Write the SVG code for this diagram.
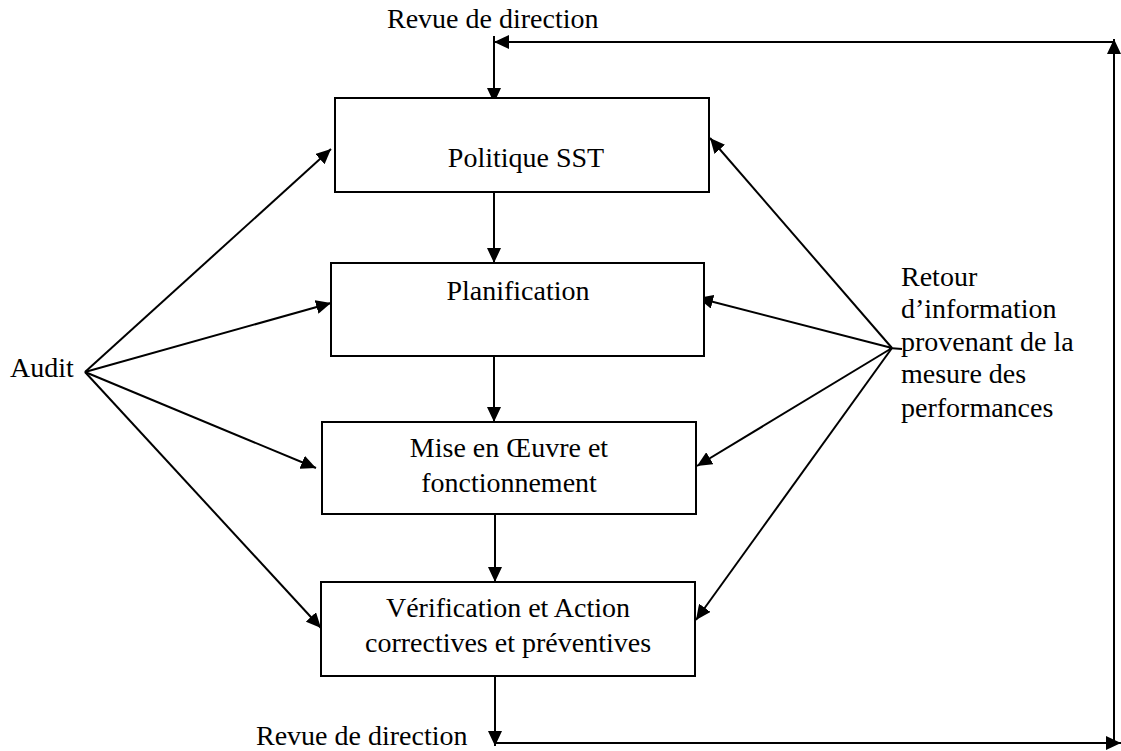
<svg xmlns="http://www.w3.org/2000/svg" width="1121" height="751" viewBox="0 0 1121 751" font-family="'Liberation Serif', 'DejaVu Serif', serif">
<style>
  .box { fill: #ffffff; stroke: #000000; stroke-width: 2; }
  .t { font-family: 'Liberation Serif', 'DejaVu Serif', serif; font-size: 28px; fill: #000000; }
  .c { text-anchor: middle; }
  .ln { stroke: #000000; stroke-width: 2; fill: none; }
  .ar { marker-end: url(#arrow); }
</style>
<defs>
  <marker id="arrow" markerUnits="userSpaceOnUse" markerWidth="16" markerHeight="14" refX="15" refY="7" orient="auto">
    <path d="M0,0 L15,7 L0,14 z" fill="#000000"/>
  </marker>
</defs>
<rect width="1121" height="751" fill="#ffffff"/>

<g id="connectors">
  <line class="ln ar" x1="1114" y1="42" x2="494" y2="42"/>
  <line class="ln ar" x1="494" y1="36" x2="494" y2="103"/>
  <line class="ln ar" x1="1114" y1="743" x2="1114" y2="39"/>
  <line class="ln ar" x1="495" y1="676" x2="495" y2="746"/>
  <line class="ln ar" x1="495" y1="743" x2="1121" y2="743"/>
  <line class="ln ar" x1="494" y1="192" x2="494" y2="263"/>
  <line class="ln ar" x1="494" y1="352" x2="494" y2="422"/>
  <line class="ln ar" x1="495" y1="514" x2="495" y2="582"/>
  <line class="ln ar" x1="85" y1="372" x2="331" y2="149"/>
  <line class="ln ar" x1="85" y1="372" x2="331" y2="303"/>
  <line class="ln ar" x1="85" y1="372" x2="316" y2="468"/>
  <line class="ln ar" x1="85" y1="372" x2="321" y2="628"/>
  <line class="ln ar" x1="892" y1="348" x2="710" y2="138"/>
  <line class="ln ar" x1="892" y1="348" x2="698" y2="298"/>
  <line class="ln ar" x1="892" y1="348" x2="697" y2="466"/>
  <line class="ln ar" x1="892" y1="348" x2="696" y2="620"/>
  <line class="ln" x1="889" y1="348" x2="902" y2="349" stroke-width="1.5"/>
</g>

<g id="politique">
  <rect class="box" x="335" y="98" width="374" height="94"/>
  <text class="t c" x="526" y="167">Politique SST</text>
</g>
<g id="planification">
  <rect class="box" x="331" y="263" width="373" height="93"/>
  <text class="t c" x="518" y="300">Planification</text>
</g>
<g id="mise-en-oeuvre">
  <rect class="box" x="322" y="422" width="374" height="92"/>
  <text class="t c" x="509" y="457">Mise en Œuvre et</text>
  <text class="t c" x="509" y="492">fonctionnement</text>
</g>
<g id="verification">
  <rect class="box" x="321" y="582" width="374" height="94"/>
  <text class="t c" x="508" y="617">Vérification et Action</text>
  <text class="t c" x="508" y="652">correctives et préventives</text>
</g>
<g id="revue-haut">
  <text class="t" x="387" y="28">Revue de direction</text>
</g>
<g id="revue-bas">
  <text class="t" x="256" y="745">Revue de direction</text>
</g>
<g id="audit">
  <text class="t" x="10" y="377">Audit</text>
</g>
<g id="retour">
  <text class="t" x="901" y="286">Retour</text>
  <text class="t" x="901" y="318">d’information</text>
  <text class="t" x="901" y="351">provenant de la</text>
  <text class="t" x="901" y="383">mesure des</text>
  <text class="t" x="901" y="417">performances</text>
</g>
</svg>
